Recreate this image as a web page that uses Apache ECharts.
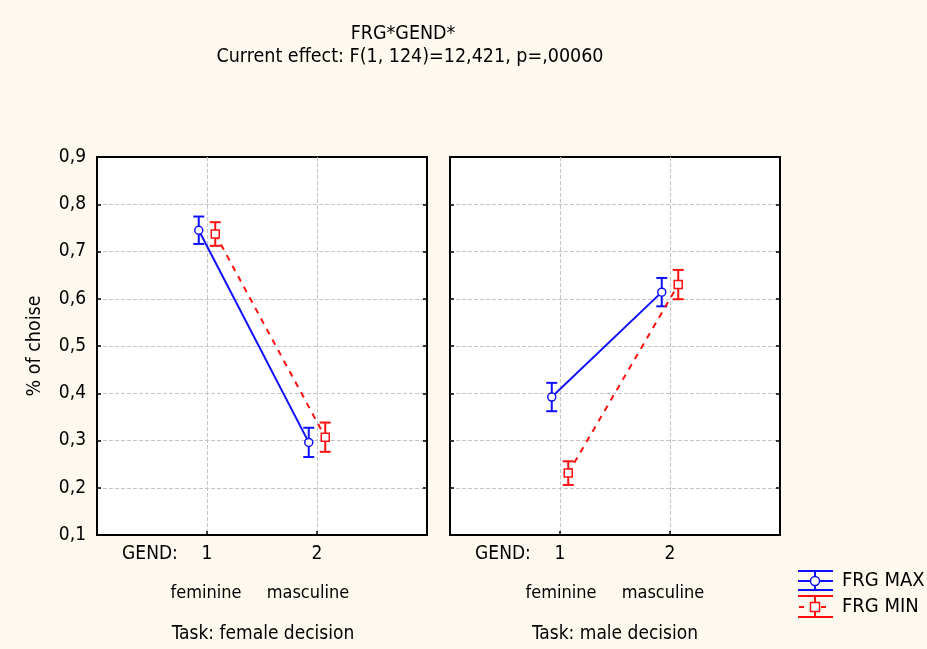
<!DOCTYPE html>
<html>
<head>
<meta charset="utf-8">
<script src="https://cdn.jsdelivr.net/npm/echarts@6/dist/echarts.min.js"></script>
<style>
html,body{margin:0;padding:0;background:#fdf9ef;}
#c{width:927px;height:649px;}
</style>
</head>
<body>
<div id="c"></div>
<script>
// ---- data ----
var categories = [1, 2];            // GEND levels
var categoryNames = ['feminine', 'masculine'];
var panels = ['Task: female decision', 'Task: male decision'];
var seriesNames = ['FRG MAX', 'FRG MIN'];
// means per panel [female decision, male decision], per GEND level
var maxMean = [[0.745, 0.296], [0.392, 0.614]];
var maxErr  = [[0.029, 0.031], [0.030, 0.030]];
var minMean = [[0.737, 0.307], [0.231, 0.630]];
var minErr  = [[0.025, 0.031], [0.025, 0.031]];
var yTicks = [0.1, 0.2, 0.3, 0.4, 0.5, 0.6, 0.7, 0.8, 0.9];

var FONT = '"DejaVu Sans Condensed", "DejaVu Sans", sans-serif';
var BLUE = '#1010ff', RED = '#ff1010';
var OFFSET = 0.075;

var chart = echarts.init(document.getElementById('c'));

var gridLefts = [97, 450];
var grids = [], xAxes = [], yAxes = [], series = [];

function fmt(v){ return v.toFixed(1).replace('.', ','); }

var splitStyle = {show: true, showMinLine: false, showMaxLine: false,
  lineStyle: {color: '#c4c4c4', type: 'dashed', width: 1}};

for (var p = 0; p < 2; p++) {
  grids.push({left: gridLefts[p], top: 157, width: 330, height: 378,
    show: true, backgroundColor: '#ffffff', borderColor: '#000', borderWidth: 2});
  xAxes.push({type: 'value', gridIndex: p, min: 0, max: 3, interval: 1,
    axisLine: {show: false},
    axisTick: {show: true, inside: true, length: 4, lineStyle: {color: '#000', width: 1.5}},
    axisLabel: {margin: 10, color: '#000', fontFamily: FONT, fontSize: 19,
      formatter: function(v){ return (v === 1 || v === 2) ? String(v) : ''; }},
    splitLine: splitStyle});
  yAxes.push({type: 'value', gridIndex: p, min: 0.1, max: 0.9, interval: 0.1, position: 'left',
    axisLine: {show: false},
    axisTick: {show: true, inside: true, length: 4, lineStyle: {color: '#000', width: 1.5}},
    axisLabel: {show: p === 0, margin: 11, color: '#000', fontFamily: FONT, fontSize: 19,
      formatter: function(v){ return fmt(v); }},
    splitLine: splitStyle});
  yAxes.push({type: 'value', gridIndex: p, min: 0.1, max: 0.9, interval: 0.1, position: 'right',
    axisLine: {show: false},
    axisTick: {show: true, inside: true, length: 4, lineStyle: {color: '#000', width: 1.5}},
    axisLabel: {show: false}, splitLine: {show: false}});
}

function errSeries(p, means, errs, off, color, yIdx) {
  var d = categories.map(function(c, i){ return [c + off, means[p][i], errs[p][i]]; });
  return {type: 'custom', xAxisIndex: p, yAxisIndex: yIdx, data: d, z: 3,
    renderItem: function(params, api){
      var x = api.value(0), m = api.value(1), e = api.value(2);
      var top = api.coord([x, m + e]), bot = api.coord([x, m - e]);
      var w = 5.5;
      var st = {stroke: color, lineWidth: 2};
      return {type: 'group', children: [
        {type: 'line', shape: {x1: top[0], y1: top[1], x2: bot[0], y2: bot[1]}, style: st},
        {type: 'line', shape: {x1: top[0]-w, y1: top[1], x2: top[0]+w, y2: top[1]}, style: st},
        {type: 'line', shape: {x1: bot[0]-w, y1: bot[1], x2: bot[0]+w, y2: bot[1]}, style: st}
      ]};
    }};
}

for (var p = 0; p < 2; p++) {
  var yIdx = p * 2;
  series.push(errSeries(p, maxMean, maxErr, -OFFSET, BLUE, yIdx));
  series.push(errSeries(p, minMean, minErr, OFFSET, RED, yIdx));
  series.push({type: 'line', name: seriesNames[0], xAxisIndex: p, yAxisIndex: yIdx, z: 4,
    data: categories.map(function(c, i){ return [c - OFFSET, maxMean[p][i]]; }),
    lineStyle: {color: BLUE, width: 2}, symbol: 'circle', symbolSize: 8,
    itemStyle: {color: '#fff', borderColor: BLUE, borderWidth: 1.5}, showSymbol: true, animation: false});
  series.push({type: 'line', name: seriesNames[1], xAxisIndex: p, yAxisIndex: yIdx, z: 4,
    data: categories.map(function(c, i){ return [c + OFFSET, minMean[p][i]]; }),
    lineStyle: {color: RED, width: 2, type: [6, 6]}, symbol: 'rect', symbolSize: 8,
    itemStyle: {color: '#fff', borderColor: RED, borderWidth: 1.5}, showSymbol: true, animation: false});
}

var txt = function(x, y, s, size, align, extra){
  var o = {type: 'text', x: x, y: y, style: {text: s, fill: '#000', font: size + 'px ' + FONT,
    textAlign: align || 'center', textVerticalAlign: 'middle'}};
  if (extra) for (var k in extra) o[k] = extra[k];
  return o;
};

var graphics = [
  txt(403, 34, 'FRG*GEND*', 19.5),
  txt(410, 57, 'Current effect: F(1, 124)=12,421, p=,00060', 19.5),
  txt(35, 346, '% of choise', 19.5, 'center', {rotation: Math.PI/2}),
  txt(150, 554, 'GEND:', 19), txt(503, 554, 'GEND:', 19),
  txt(206, 593, categoryNames[0], 18), txt(308, 593, categoryNames[1], 18),
  txt(561, 593, categoryNames[0], 18), txt(663, 593, categoryNames[1], 18),
  txt(263, 634, panels[0], 19), txt(615, 634, panels[1], 19),
  // legend
  {type:'line', shape:{x1:798,y1:571,x2:833,y2:571}, style:{stroke:BLUE,lineWidth:2}},
  {type:'line', shape:{x1:798,y1:590,x2:833,y2:590}, style:{stroke:BLUE,lineWidth:2}},
  {type:'line', shape:{x1:815,y1:571,x2:815,y2:590}, style:{stroke:BLUE,lineWidth:2}},
  {type:'line', shape:{x1:798,y1:581,x2:833,y2:581}, style:{stroke:BLUE,lineWidth:2}},
  {type:'circle', shape:{cx:815,cy:581,r:4.5}, style:{fill:'#fff',stroke:BLUE,lineWidth:1.5}, z:10},
  {type:'line', shape:{x1:798,y1:596,x2:833,y2:596}, style:{stroke:RED,lineWidth:2}},
  {type:'line', shape:{x1:798,y1:617,x2:833,y2:617}, style:{stroke:RED,lineWidth:2}},
  {type:'line', shape:{x1:815,y1:596,x2:815,y2:617}, style:{stroke:RED,lineWidth:2}},
  {type:'line', shape:{x1:799,y1:607,x2:832,y2:607}, style:{stroke:RED,lineWidth:2,lineDash:[5,6]}},
  {type:'rect', shape:{x:810.5,y:602.5,width:9,height:9}, style:{fill:'#fff',stroke:RED,lineWidth:1.5}, z:10},
  txt(842, 581, seriesNames[0], 20, 'left'),
  txt(842, 607, seriesNames[1], 20, 'left')
];

chart.setOption({
  backgroundColor: '#fdf9ef',
  animation: false,
  grid: grids, xAxis: xAxes, yAxis: yAxes, series: series,
  graphic: graphics
});
</script>
</body>
</html>
